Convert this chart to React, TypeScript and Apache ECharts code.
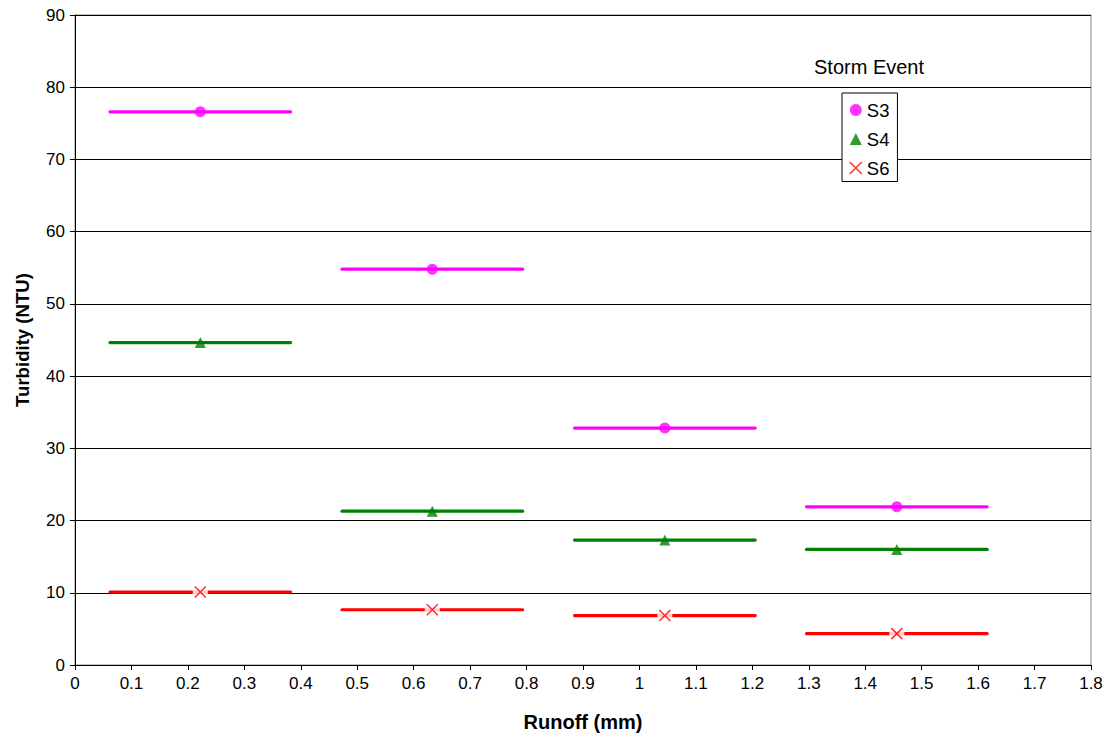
import React, { useEffect, useRef } from "react";
import * as echarts from "echarts";

// Mean runoff per event class (mm) and its half-range
const runoff = [0.222, 0.633, 1.045, 1.456];
const runoffHalfRange = [0.16, 0.16, 0.16, 0.16];

// Turbidity (NTU) per storm event
const s3 = [76.6, 54.8, 32.8, 21.9];
const s4 = [44.65, 21.3, 17.3, 16.0];
const s6 = [10.1, 7.65, 6.85, 4.35];

const xTicks = [0, 1.8, 0.1];
const yTicks = [0, 90, 10];

const FONT = "Liberation Sans, Arial, sans-serif";
const C3 = "#FF00FF";
const C4 = "#008000";
const C6 = "#FF0000";
const X_PATH = "path://M0,0L10,10M10,0L0,10";

const points = (vals: number[]) => runoff.map((x, i) => [x, vals[i]]);
const ranges = (vals: number[]) =>
  runoff.map((x, i) => [x - runoffHalfRange[i], x + runoffHalfRange[i], vals[i]]);

const rangeSeries = (name: string, vals: number[], color: string) => ({
  name,
  type: "custom",
  z: 2,
  data: ranges(vals),
  encode: { x: [0, 1], y: 2 },
  renderItem: (_p: any, api: any) => {
    const a = api.coord([api.value(0), api.value(2)]);
    const b = api.coord([api.value(1), api.value(2)]);
    return {
      type: "line",
      shape: { x1: a[0], y1: a[1], x2: b[0], y2: b[1] },
      style: { stroke: color, lineWidth: 3.2, lineCap: "round" },
    };
  },
});

export default function App() {
  const ref = useRef<HTMLDivElement>(null);

  useEffect(() => {
    if (!ref.current) return;
    const chart = echarts.init(ref.current, undefined, { renderer: "svg" });
    chart.setOption({
      animation: false,
      backgroundColor: "#fff",
      textStyle: { fontFamily: FONT },
      grid: {
        left: 75,
        right: 17,
        top: 15,
        bottom: 75,
        show: true,
        borderColor: "#8a8a8a",
        borderWidth: 1,
        backgroundColor: "transparent",
      },
      xAxis: {
        type: "value",
        min: xTicks[0],
        max: xTicks[1],
        interval: xTicks[2],
        name: "Runoff (mm)",
        nameLocation: "middle",
        nameGap: 47,
        nameTextStyle: { fontSize: 20, fontWeight: "bold", color: "#000", fontFamily: FONT },
        axisLine: { lineStyle: { color: "#000", width: 1 } },
        axisTick: { show: true, length: 5, lineStyle: { color: "#000" } },
        axisLabel: {
          fontSize: 17,
          color: "#000",
          margin: 10,
          fontFamily: FONT,
          formatter: (v: number) => String(+v.toFixed(1)),
        },
        splitLine: { show: false },
      },
      yAxis: {
        type: "value",
        min: yTicks[0],
        max: yTicks[1],
        interval: yTicks[2],
        name: "Turbidity (NTU)",
        nameLocation: "middle",
        nameGap: 43,
        nameRotate: 90,
        nameTextStyle: { fontSize: 18.6, fontWeight: "bold", color: "#000", fontFamily: FONT },
        axisLine: { show: true, lineStyle: { color: "#000", width: 1 } },
        axisTick: { show: true, length: 5, lineStyle: { color: "#000" } },
        axisLabel: { fontSize: 17, color: "#000", margin: 10, fontFamily: FONT },
        splitLine: { show: true, lineStyle: { color: "#000", width: 1 } },
      },
      legend: {
        orient: "vertical",
        left: 842,
        top: 93,
        padding: [7.5, 8, 4, 7],
        itemGap: 10,
        itemWidth: 12,
        itemHeight: 12,
        borderColor: "#000",
        borderWidth: 1,
        backgroundColor: "#fff",
        textStyle: { fontSize: 18.5, color: "#000", fontFamily: FONT },
        data: [
          { name: "S3", icon: "circle", itemStyle: { color: C3 } },
          { name: "S4", icon: "triangle", itemStyle: { color: C4 } },
          {
            name: "S6",
            icon: X_PATH,
            itemStyle: { color: "transparent", borderColor: C6, borderWidth: 1.6 },
          },
        ],
      },
      graphic: [
        {
          type: "text",
          x: 814,
          y: 67,
          style: {
            text: "Storm Event",
            fontSize: 20,
            fill: "#000",
            fontFamily: FONT,
            verticalAlign: "middle",
          },
        },
      ],
      series: [
        rangeSeries("S3 range", s3, C3),
        rangeSeries("S4 range", s4, C4),
        rangeSeries("S6 range", s6, C6),
        {
          name: "S6 backing",
          type: "scatter",
          z: 3,
          symbol: "rect",
          symbolSize: 15,
          itemStyle: { color: "#fff" },
          data: points(s6),
          silent: true,
        },
        {
          name: "S3",
          type: "scatter",
          z: 4,
          symbol: "circle",
          symbolSize: 11,
          itemStyle: { color: C3 },
          data: points(s3),
        },
        {
          name: "S4",
          type: "scatter",
          z: 4,
          symbol: "triangle",
          symbolSize: 11,
          itemStyle: { color: C4 },
          data: points(s4),
        },
        {
          name: "S6",
          type: "scatter",
          z: 4,
          symbol: X_PATH,
          symbolSize: 11,
          itemStyle: { color: "transparent", borderColor: C6, borderWidth: 1.6 },
          data: points(s6),
        },
      ],
    });
    return () => chart.dispose();
  }, []);

  return (
    <div
      ref={ref}
      style={{ position: "absolute", left: 0, top: 0, width: 1108, height: 740 }}
    />
  );
}
